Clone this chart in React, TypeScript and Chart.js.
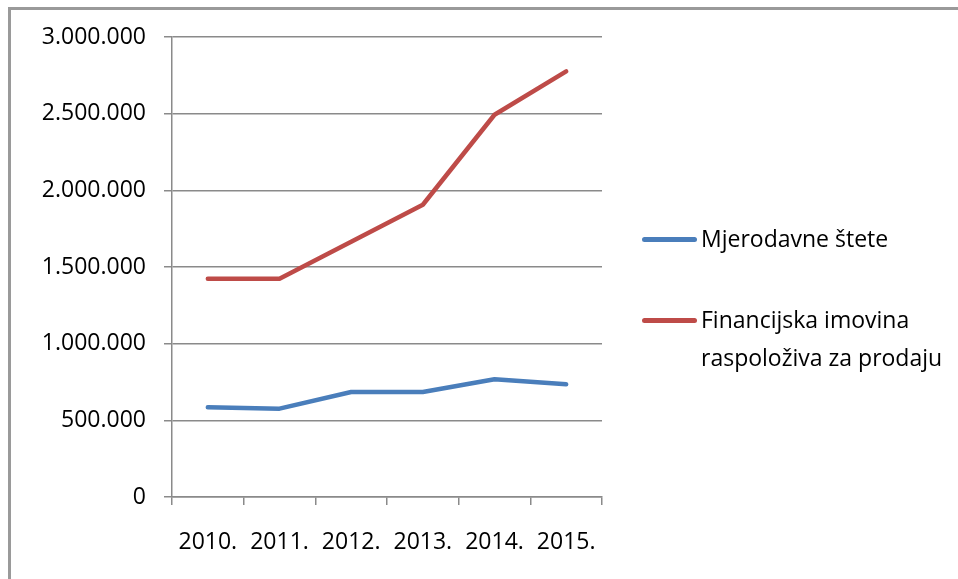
import React, { useEffect, useRef } from "react";
import { Chart, registerables } from "chart.js";

Chart.register(...registerables);

const categories = ["2010.", "2011.", "2012.", "2013.", "2014.", "2015."];
const mjerodavneStete = [585000, 576000, 685000, 685000, 768000, 735000];
const financijskaImovina = [1423000, 1423000, 1665000, 1906000, 2493000, 2776000];
const yTickLabels = ["0", "500.000", "1.000.000", "1.500.000", "2.000.000", "2.500.000", "3.000.000"];
const seriesNames = ["Mjerodavne štete", "Financijska imovina raspoloživa za prodaju"];
const seriesColors = ["#4a7ebb", "#be4b48"];

const FONT = "'Open Sans', 'Noto Sans', sans-serif";
const GRID = "#8a8a8a";

export default function App() {
  const ref = useRef<HTMLCanvasElement | null>(null);

  useEffect(() => {
    const canvas = ref.current;
    if (!canvas) return;
    const chart = new Chart(canvas, {
      type: "line",
      data: {
        labels: categories,
        datasets: [
          {
            label: seriesNames[0],
            data: mjerodavneStete,
            borderColor: seriesColors[0],
            backgroundColor: seriesColors[0],
            borderWidth: 4.5,
            borderCapStyle: "round",
            borderJoinStyle: "round",
            pointRadius: 0,
            tension: 0,
          },
          {
            label: seriesNames[1],
            data: financijskaImovina,
            borderColor: seriesColors[1],
            backgroundColor: seriesColors[1],
            borderWidth: 4.5,
            borderCapStyle: "round",
            borderJoinStyle: "round",
            pointRadius: 0,
            tension: 0,
          },
        ],
      },
      options: {
        responsive: false,
        animation: false,
        layout: { padding: { left: 0, top: 37, right: 356, bottom: 0 } },
        plugins: { legend: { display: false }, tooltip: { enabled: false } },
        scales: {
          x: {
            offset: true,
            grid: {
              offset: true,
              drawOnChartArea: false,
              drawTicks: true,
              tickLength: 8,
              color: GRID,
              lineWidth: 1.5,
            },
            border: { color: GRID, width: 1.5 },
            ticks: {
              color: "#000",
              font: { family: FONT, size: 23 },
              padding: 24,
              maxRotation: 0,
              autoSkip: false,
            },
            afterFit: (scale: any) => {
              scale.height = 82;
            },
          },
          y: {
            min: 0,
            max: 3000000,
            grid: {
              color: GRID,
              lineWidth: 1.5,
              tickLength: 8,
            },
            border: { color: GRID, width: 1.5 },
            ticks: {
              stepSize: 500000,
              color: "#000",
              font: { family: FONT, size: 23 },
              padding: 18,
              callback: (_v: any, i: number) => yTickLabels[i],
            },
            afterFit: (scale: any) => {
              scale.width = 172;
            },
          },
        },
      },
    });
    return () => chart.destroy();
  }, []);

  const legendItem = (i: number, top: number) => (
    <div
      key={i}
      style={{
        position: "absolute",
        left: 642,
        top,
        display: "flex",
        alignItems: "flex-start",
      }}
    >
      <div
        style={{
          width: 55,
          height: 5,
          borderRadius: 3,
          background: seriesColors[i],
          marginTop: 16,
          marginRight: 4,
          flex: "none",
        }}
      />
      <div
        style={{
          fontFamily: FONT,
          fontSize: 23,
          lineHeight: "38px",
          color: "#000",
          width: 250,
          marginTop: -2,
        }}
      >
        {seriesNames[i]}
      </div>
    </div>
  );

  return (
    <div style={{ position: "fixed", left: 0, top: 0, width: 958, height: 579, overflow: "hidden", background: "#fff" }}>
      <div
        style={{
          position: "absolute",
          left: 8,
          top: 7,
          width: 1000,
          height: 700,
          borderLeft: "3px solid #9a9a9a",
          borderTop: "3px solid #9a9a9a",
        }}
      />
      <canvas ref={ref} width={958} height={579} style={{ position: "absolute", left: 0, top: 0 }} />
      {legendItem(0, 221)}
      {legendItem(1, 302)}
    </div>
  );
}
